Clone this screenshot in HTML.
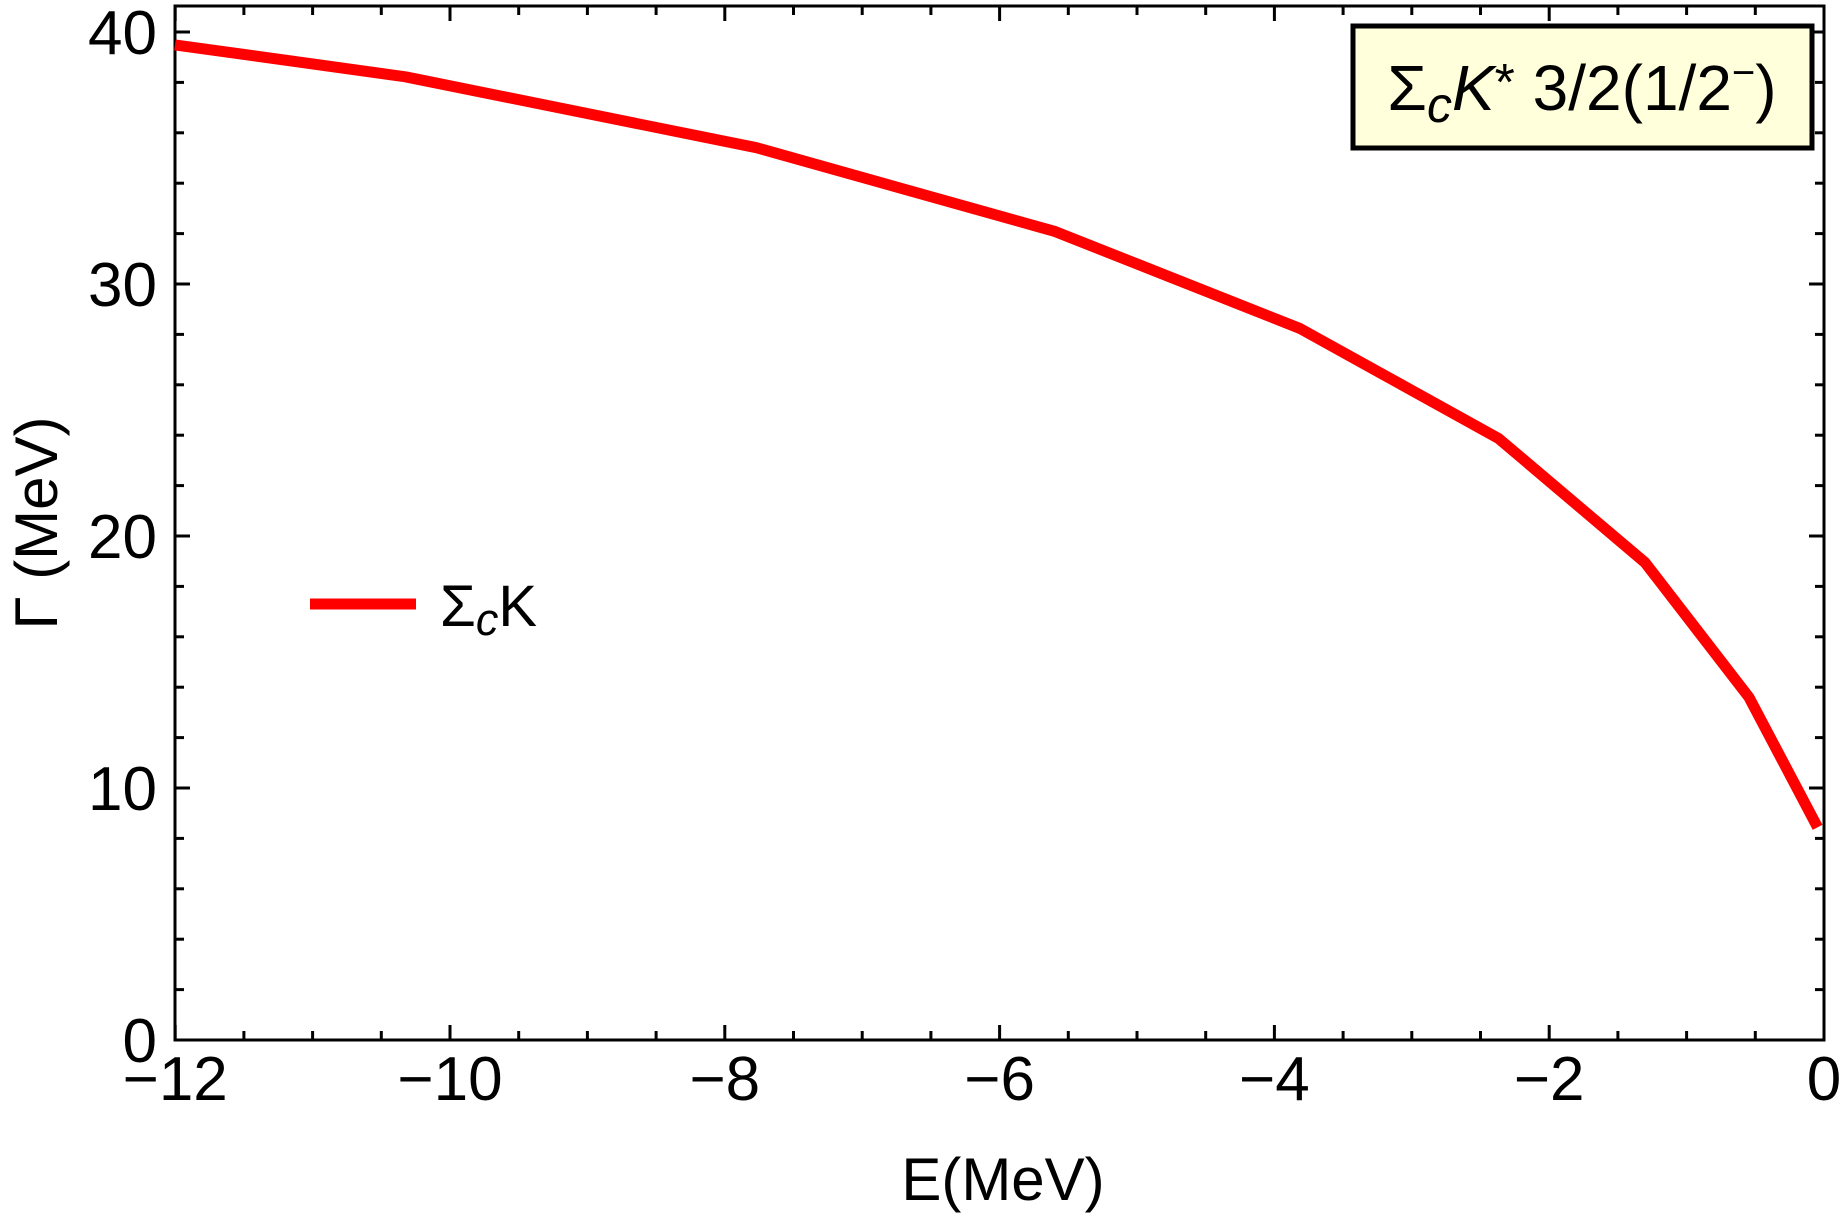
<!DOCTYPE html>
<html><head><meta charset="utf-8"><style>
html,body{margin:0;padding:0;background:#fff;}
svg{display:block;font-family:"Liberation Sans",sans-serif;}
</style></head><body>
<svg width="1846" height="1220" viewBox="0 0 1846 1220" xmlns="http://www.w3.org/2000/svg">
<g id="ticks" stroke="#000" stroke-width="3"></g>
<rect x="175" y="6" width="1649" height="1034" fill="none" stroke="#000" stroke-width="3"/>
<polyline fill="none" stroke="#ff0000" stroke-width="11" stroke-linejoin="round"
 points="175,44.9 405.4,76.8 756.4,147.7 1055.3,231.6 1300,328.5 1498.5,438.4 1645,562.5 1749,697.3 1817.6,827.3"/>
<line x1="310" y1="604" x2="416" y2="604" stroke="#ff0000" stroke-width="11"/>
<text x="440" y="626" font-size="58">Σ<tspan font-style="italic" font-size="45" dy="9">c</tspan><tspan dy="-9">K</tspan></text>
<rect x="1353" y="26" width="459" height="122" fill="#ffffdc" stroke="#000" stroke-width="5"/>
<text x="1582" y="110" font-size="64" text-anchor="middle">Σ<tspan font-style="italic" font-size="50" dy="12">c</tspan><tspan font-style="italic" dy="-12">K</tspan><tspan font-size="52" dy="-10">*</tspan><tspan dy="10"> 3/2(1/2</tspan><tspan font-size="40" dy="-24">−</tspan><tspan dy="24">)</tspan></text>
<g font-size="62" text-anchor="middle" id="xl"></g>
<g font-size="62" text-anchor="end" id="yl"></g>
<text x="1003" y="1200" font-size="60" text-anchor="middle">E(MeV)</text>
<text transform="translate(57,523) rotate(-90)" font-size="60" text-anchor="middle">Γ (MeV)</text>
<script>
var ns="http://www.w3.org/2000/svg",t=document.getElementById('ticks'),xl=document.getElementById('xl'),yl=document.getElementById('yl');
function L(a,b,c,d){var l=document.createElementNS(ns,'line');l.setAttribute('x1',a);l.setAttribute('y1',b);l.setAttribute('x2',c);l.setAttribute('y2',d);t.appendChild(l);}
function T(g,x,y,s){var e=document.createElementNS(ns,'text');e.setAttribute('x',x);e.setAttribute('y',y);e.textContent=s;g.appendChild(e);}
for(var i=0;i<=24;i++){var v=-12+i*0.5,x=1824+v*137.4,len=(i%4==0)?15:9;
 L(x,1040,x,1040-len);L(x,6,x,6+len);
 if(i%4==0)T(xl,x,1100,v==0?'0':'\u2212'+(-v));}
for(var j=0;j<=20;j++){var y=1040-j*2*25.2,len=(j%5==0)?15:9;
 L(175,y,175+len,y);L(1824,y,1824-len,y);
 if(j%5==0)T(yl,157,y+22,String(j*2));}
</script>
</svg>
</body></html>
